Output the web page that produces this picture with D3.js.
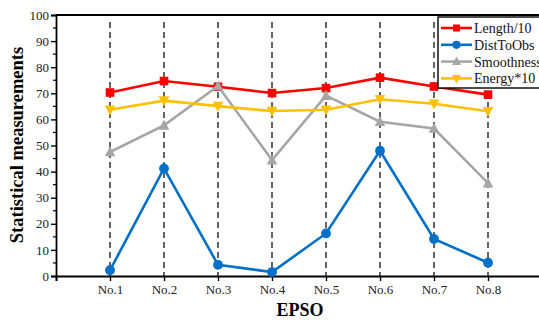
<!DOCTYPE html>
<html>
<head>
<meta charset="utf-8">
<script src="https://cdn.jsdelivr.net/npm/d3@7"></script>
<style>
  body { margin: 0; background: #fff; }
  text { font-family: "Liberation Serif", "Times New Roman", serif; }
</style>
</head>
<body>
<div id="chart"></div>
<script>
var categories = ["No.1", "No.2", "No.3", "No.4", "No.5", "No.6", "No.7", "No.8"];
var lengthVals = [70.3, 74.7, 72.5, 70.1, 72.0, 76.0, 72.6, 69.5];
var distVals = [2.2, 41.2, 4.3, 1.5, 16.3, 48.0, 14.2, 5.1];
var smoothVals = [47.5, 57.7, 72.8, 44.4, 69.1, 59.1, 56.5, 35.6];
var energyVals = [63.7, 67.2, 65.1, 63.2, 63.7, 67.7, 66.0, 63.1];
var yTicks = [0, 10, 20, 30, 40, 50, 60, 70, 80, 90, 100];

var series = [
  {name: "Length/10", values: lengthVals, color: "#ff0000", marker: "square"},
  {name: "DistToObs", values: distVals, color: "#0070c8", marker: "circle"},
  {name: "Smoothness", values: smoothVals, color: "#a6a6a6", marker: "triangle"},
  {name: "Energy*10", values: energyVals, color: "#ffc000", marker: "down"}
];

var width = 539, height = 324;
var margin = {top: 15, right: -3, bottom: 48, left: 56};
var chartWidth = width - margin.left - margin.right;
var chartHeight = height - margin.top - margin.bottom;

var svg = d3.select('#chart').append('svg')
  .attr('width', width)
  .attr('height', height)
  .append('g')
  .attr('transform', `translate(${margin.left}, ${margin.top})`);

// x is numeric 0..9 so the categories sit at 1..8
var xScale = d3.scaleLinear().domain([0, 9]).range([0, chartWidth]);
var yScale = d3.scaleLinear().domain([0, 100]).range([chartHeight, 0]);

// dashed guide lines
svg.selectAll('.guide')
  .data(categories)
  .enter()
  .append('line')
  .attr('class', 'guide')
  .attr('x1', (d, i) => xScale(i + 1))
  .attr('x2', (d, i) => xScale(i + 1))
  .attr('y1', 7)
  .attr('y2', chartHeight)
  .attr('stroke', '#222')
  .attr('stroke-width', 1.4)
  .attr('stroke-dasharray', '6,4');

// top frame line
svg.append('line')
  .attr('x1', 0).attr('x2', chartWidth + 5)
  .attr('y1', 0).attr('y2', 0)
  .attr('stroke', '#000').attr('stroke-width', 1.8);

var xAxis = d3.axisBottom(xScale)
  .tickValues(d3.range(0, 9))
  .tickFormat(d => d === 0 ? '' : categories[d - 1])
  .tickSizeOuter(0)
  .tickSize(5)
  .tickPadding(4);

var gx = svg.append('g')
  .attr('class', 'x axis')
  .attr('transform', `translate(0,${chartHeight})`)
  .call(xAxis);

var yAxis = d3.axisLeft(yScale)
  .tickValues(yTicks)
  .tickSizeOuter(0)
  .tickSize(5)
  .tickPadding(2);

var gy = svg.append('g')
  .attr('class', 'y axis')
  .call(yAxis);

// minor ticks on y
gy.selectAll('.minor')
  .data(d3.range(5, 100, 10))
  .enter()
  .append('line')
  .attr('class', 'minor')
  .attr('x1', -3).attr('x2', 0)
  .attr('y1', d => yScale(d)).attr('y2', d => yScale(d))
  .attr('stroke', '#000').attr('stroke-width', 1.2);

svg.selectAll('.axis path').attr('stroke', '#000').attr('stroke-width', 1.8);
svg.selectAll('.axis .tick line').attr('stroke', '#000').attr('stroke-width', 1.4);
svg.selectAll('.axis text')
  .attr('fill', '#222')
  .style('font-size', '13px');

// lines
var line = d3.line()
  .x((d, i) => xScale(i + 1))
  .y(d => yScale(d));

function drawMarker(g, type, color, x, y, s) {
  if (type === 'square') {
    g.append('rect').attr('x', x - s).attr('y', y - s)
      .attr('width', 2 * s).attr('height', 2 * s).attr('fill', color);
  } else if (type === 'circle') {
    g.append('circle').attr('cx', x).attr('cy', y).attr('r', s + 0.6).attr('fill', color);
  } else if (type === 'triangle') {
    g.append('path')
      .attr('d', `M${x},${y - s - 1.5}L${x + s + 1},${y + s}L${x - s - 1},${y + s}Z`)
      .attr('fill', color);
  } else {
    g.append('path')
      .attr('d', `M${x},${y + s + 1.5}L${x + s + 1},${y - s}L${x - s - 1},${y - s}Z`)
      .attr('fill', color);
  }
}

series.forEach(function (s) {
  var g = svg.append('g');
  g.append('path')
    .datum(s.values)
    .attr('d', line)
    .attr('fill', 'none')
    .attr('stroke', s.color)
    .attr('stroke-width', 2.6);
  s.values.forEach(function (v, i) {
    drawMarker(g, s.marker, s.color, xScale(i + 1), yScale(v), 4.3);
  });
});

// legend
var legend = svg.append('g')
  .attr('transform', `translate(${438 - margin.left}, ${17 - margin.top})`);

legend.append('rect')
  .attr('x', 0).attr('y', 0)
  .attr('width', 110).attr('height', 71)
  .attr('fill', '#fff')
  .attr('stroke', '#000')
  .attr('stroke-width', 1.4);

series.forEach(function (s, i) {
  var yy = 11 + i * 16.8;
  legend.append('line')
    .attr('x1', 3).attr('x2', 34)
    .attr('y1', yy).attr('y2', yy)
    .attr('stroke', s.color).attr('stroke-width', 2.6);
  drawMarker(legend, s.marker, s.color, 18.5, yy, 3.5);
  legend.append('text')
    .attr('x', 36).attr('y', yy)
    .attr('dy', '0.35em')
    .attr('fill', '#111')
    .style('font-size', '14px')
    .text(s.name);
});

// axis titles
svg.append('text')
  .attr('transform', `translate(${17 - margin.left}, ${145 - margin.top}) rotate(-90)`)
  .attr('text-anchor', 'middle')
  .attr('dy', '0.35em')
  .style('font-size', '18.5px')
  .style('font-weight', 'bold')
  .text('Statistical measurements');

svg.append('text')
  .attr('x', 300 - margin.left)
  .attr('y', 316 - margin.top)
  .attr('text-anchor', 'middle')
  .style('font-size', '18px')
  .style('font-weight', 'bold')
  .text('EPSO');
</script>
</body>
</html>
